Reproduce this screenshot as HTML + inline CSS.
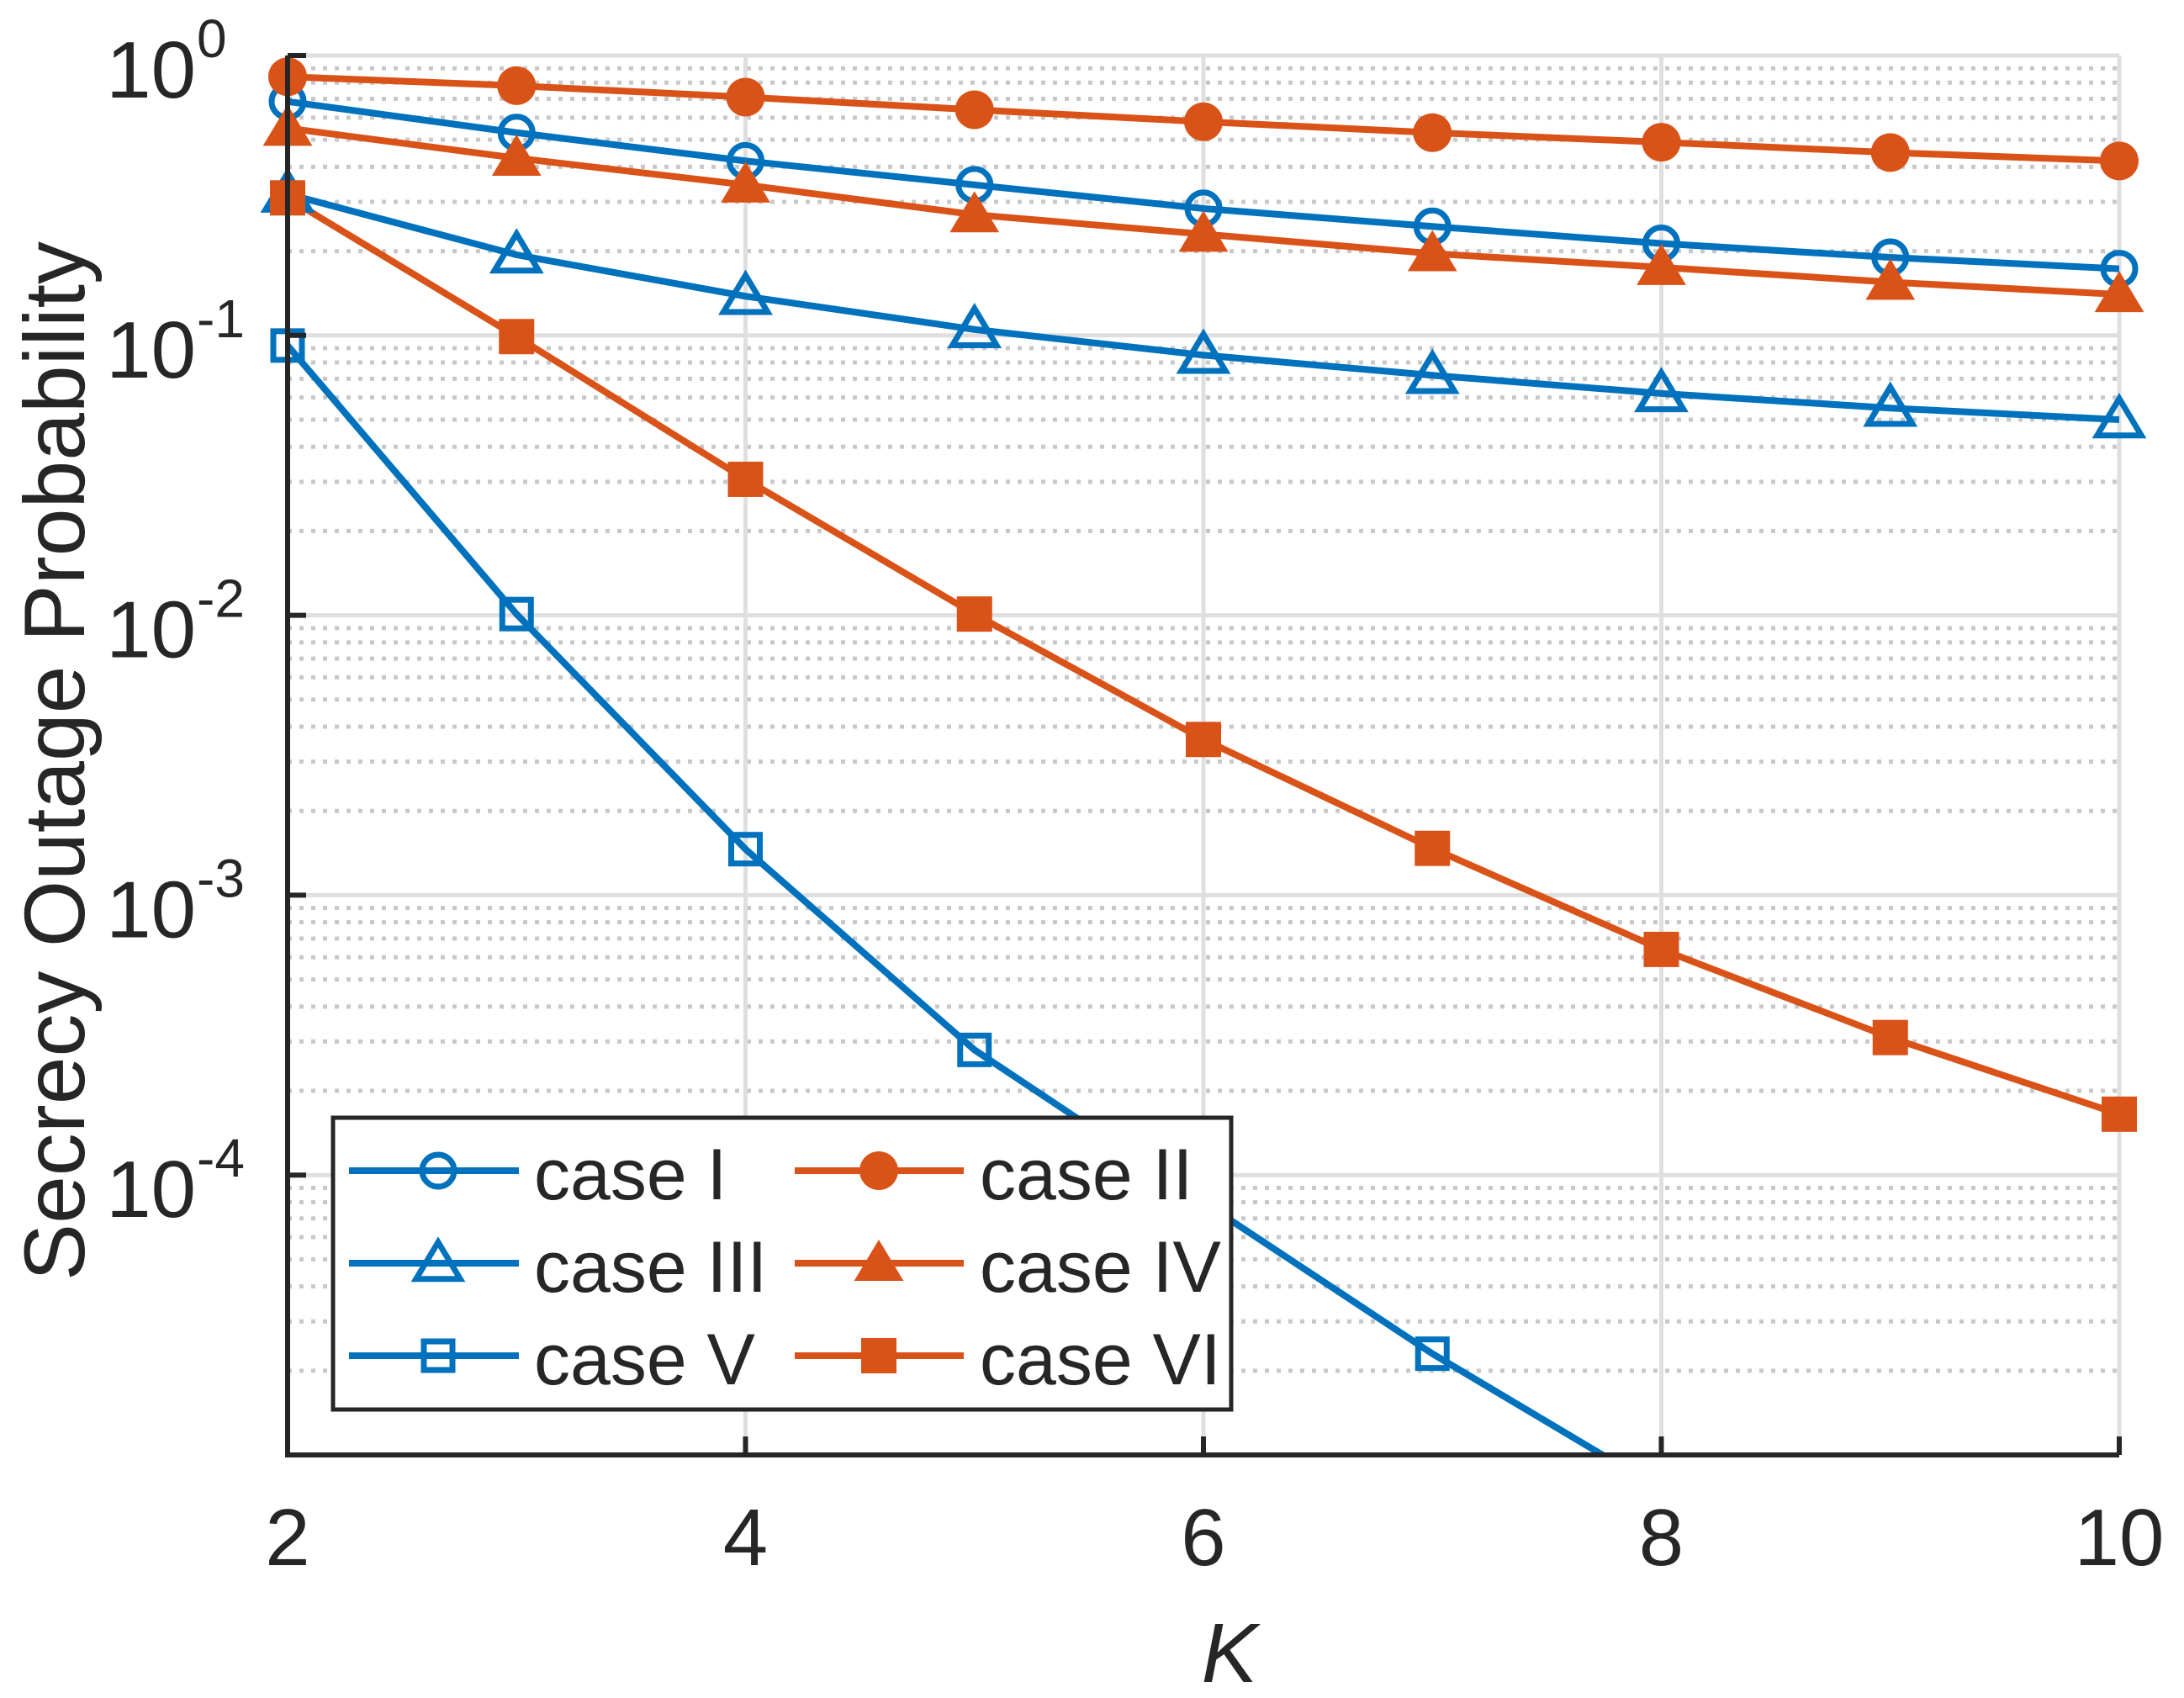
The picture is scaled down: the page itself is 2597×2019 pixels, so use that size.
<!DOCTYPE html>
<html><head><meta charset="utf-8"><style>
html,body{margin:0;padding:0;background:#fff;overflow:hidden;width:2597px;height:2019px}
svg{display:block}
text{font-family:"Liberation Sans",sans-serif;fill:#262626}
</style></head><body>
<svg id="chart" width="2597" height="2019" viewBox="0 0 2597 2019" xmlns="http://www.w3.org/2000/svg">
<defs><clipPath id="plotclip"><rect x="342" y="66" width="2178" height="1664"/></clipPath></defs>
<g id="grid"></g>
<g id="series" clip-path="url(#plotclip)"></g>
<g id="markers"></g>
<g id="axes"></g>
<text transform="translate(100,905) rotate(-90)" text-anchor="middle" font-size="102">Secrecy Outage Probability</text>
<text x="1462" y="2000" text-anchor="middle" font-size="100" font-style="italic">K</text>
<g id="legend"></g>
</svg>
<script>
const kValues = [2,3,4,5,6,7,8,9,10];
const caseI   = [0.685,0.53,0.42,0.345,0.284,0.245,0.213,0.19,0.173];
const caseII  = [0.84,0.78,0.71,0.64,0.58,0.53,0.49,0.45,0.42];
const caseIII = [0.32,0.194,0.138,0.105,0.085,0.072,0.062,0.055,0.05];
const caseIV  = [0.55,0.43,0.345,0.27,0.23,0.196,0.175,0.155,0.14];
const caseV   = [0.092,0.0101,0.00146,0.00028,0.00008,0.000023,0.0000075,0.0000022,0.0000007];
const caseVI  = [0.31,0.099,0.0306,0.0101,0.0036,0.00147,0.00064,0.00031,0.000165];
const xTicks = [2,4,6,8,10];
const yExps = [0,-1,-2,-3,-4];
const seriesNames = ["case I","case II","case III","case IV","case V","case VI"];

const NS="http://www.w3.org/2000/svg";
const X0=342,X1=2520,Y0=66,Y1=1730,XMIN=2,XMAX=10,LMAX=0,LMIN=-5;
const xs=k=>X0+(k-XMIN)/(XMAX-XMIN)*(X1-X0);
const ys=v=>Y0+(LMAX-Math.log10(v))/(LMAX-LMIN)*(Y1-Y0);
function mk(tag,attrs,parent){const e=document.createElementNS(NS,tag);for(const a in attrs)e.setAttribute(a,attrs[a]);parent.appendChild(e);return e;}
const grid=document.getElementById('grid'),axes=document.getElementById('axes'),ser=document.getElementById('series'),mg=document.getElementById('markers'),lg=document.getElementById('legend');

for(let d=LMIN;d<LMAX;d++){for(let m=2;m<=9;m++){const y=ys(m*Math.pow(10,d));
 const l=mk('line',{x1:X0,x2:X1,y1:y,y2:y,stroke:'#c8c8c8','stroke-width':5,'stroke-dasharray':'5 9'},grid);
 
 }}
for(let d=LMIN;d<=LMAX;d++){const y=ys(Math.pow(10,d));
 const l=mk('line',{x1:X0,x2:X1,y1:y,y2:y,stroke:'#dfdfdf','stroke-width':5},grid);
 
 }
xTicks.forEach(k=>{const x=xs(k);
 const l=mk('line',{x1:x,x2:x,y1:Y0,y2:Y1,stroke:'#dfdfdf','stroke-width':5},grid);
 
 });

const ax=mk('path',{d:`M${X0},${Y0} V${Y1} H${X1}`,fill:'none',stroke:'#262626','stroke-width':6},axes);


xTicks.forEach(k=>{const x=xs(k);
 const t=mk('line',{x1:x,x2:x,y1:Y1,y2:Y1-22,stroke:'#262626','stroke-width':6},axes);
 
 
 const tx=mk('text',{x:x,y:1861,'text-anchor':'middle','font-size':96},axes);
 tx.textContent=k;
 
 });
yExps.forEach(e=>{const y=ys(Math.pow(10,e));
 const t=mk('line',{x1:X0,x2:X0+22,y1:y,y2:y,stroke:'#262626','stroke-width':6},axes);
 
 
 const tx=mk('text',{x:233,y:y+50,'text-anchor':'end','font-size':96},axes);
 tx.textContent='10';
 
 
 const sp=mk('text',{x:234,y:y+2,'text-anchor':'start','font-size':64},axes);
 sp.textContent=(e===0?'0':'-'+(-e));
 
 });

const BLUE='#0072BD',ORANGE='#D95319';
const styles=[
 {data:caseI,c:BLUE,m:'circle',f:false},
 {data:caseII,c:ORANGE,m:'circle',f:true},
 {data:caseIII,c:BLUE,m:'tri',f:false},
 {data:caseIV,c:ORANGE,m:'tri',f:true},
 {data:caseV,c:BLUE,m:'square',f:false},
 {data:caseVI,c:ORANGE,m:'square',f:true}];
function marker(type,x,y,c,filled,parent,s){
 const fill=filled?c:'none';let e;
 if(type==='circle')e=mk('circle',{cx:x,cy:y,r:(filled?23:19)*s,fill:fill,stroke:c,'stroke-width':filled?0:7},parent);
 else if(type==='tri'){const h=(filled?28:25)*s;e=mk('polygon',{points:`${x},${y-h} ${x+h*1.05},${y+h*0.75} ${x-h*1.05},${y+h*0.75}`,fill:fill,stroke:c,'stroke-width':filled?0:7},parent);}
 else{const h=filled?21*s:17*s;e=mk('rect',{x:x-h,y:y-h,width:2*h,height:2*h,fill:fill,stroke:c,'stroke-width':filled?0:7},parent);}
 return e;}
styles.forEach((s,i)=>{
 const d=s.data.map((v,j)=>(j?'L':'M')+xs(kValues[j])+','+ys(v)).join(' ');
 const p=mk('path',{d:d,fill:'none',stroke:s.c,'stroke-width':8},ser);
 
 
 s.data.forEach((v,j)=>{const y=ys(v);if(y>Y1+5)return;
  const m=marker(s.m,xs(kValues[j]),y,s.c,s.f,mg,1);
  
  });
});

const box=mk('rect',{x:396,y:1329,width:1068,height:347,fill:'#fff',stroke:'#262626','stroke-width':5},lg);


[0,1,2,3,4,5].forEach(i=>{const col=i%2,row=Math.floor(i/2);const y=1392+row*110;
 const lx0=col?945:415,lx1=col?1146:617,mx=col?1045:521,tx=col?1165:635;
 const g=mk('g',{},lg);
 
 
 mk('line',{x1:lx0,x2:lx1,y1:y,y2:y,stroke:styles[i].c,'stroke-width':8},g);
 marker(styles[i].m,mx,y,styles[i].c,styles[i].f,g,1);
 const t=mk('text',{x:tx,y:y+34,'font-size':86,fill:'#000'},g);
 t.textContent=seriesNames[i];});
</script>
</body></html>
